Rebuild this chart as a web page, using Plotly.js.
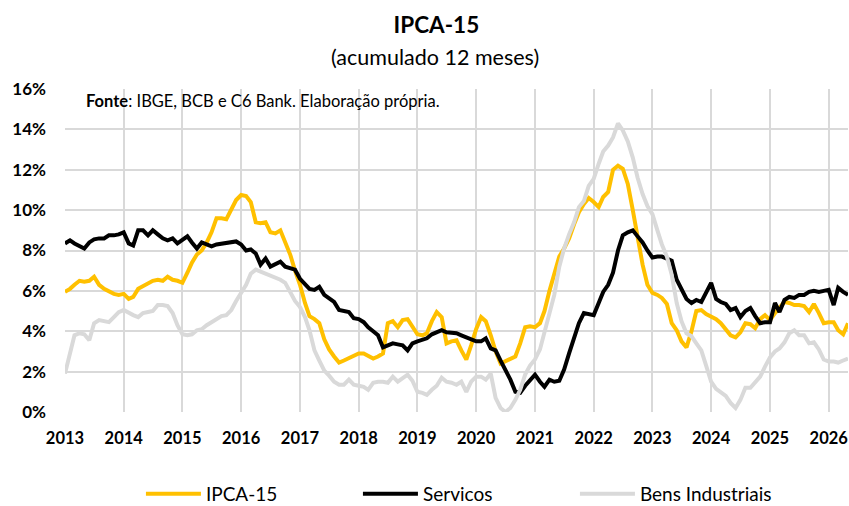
<!DOCTYPE html>
<html>
<head>
<meta charset="utf-8">
<script src="https://cdn.plot.ly/plotly-3.0.1.min.js"></script>
<style>html,body{margin:0;padding:0;background:#fff;}#chart{width:849px;height:506px;}</style>
</head>
<body>
<div id="chart"></div>
<script>
// Monthly series, Jan 2013 .. May 2026 (12-month accumulated, %)
const startYear = 2013;
const startMonth = 1;

const ipca15 = [
  5.95,6.1,6.3,6.5,6.45,6.5,6.7,6.3,6.1,5.95,5.85,5.8,
  5.85,5.6,5.7,6.1,6.25,6.35,6.5,6.55,6.5,6.7,6.55,6.5,
  6.4,6.9,7.4,7.8,8.0,8.4,8.9,9.6,9.6,9.55,10.0,10.5,
  10.75,10.7,10.4,9.4,9.35,9.4,8.9,8.85,9.0,8.4,7.8,7.0,
  6.3,5.4,4.75,4.6,4.4,3.6,3.1,2.75,2.45,2.55,2.65,2.8,
  2.9,2.9,2.8,2.65,2.75,2.9,4.4,4.5,4.2,4.55,4.6,4.2,
  3.85,3.8,3.9,4.5,4.95,4.7,3.4,3.5,3.55,3.05,2.6,3.3,
  4.1,4.7,4.5,3.8,3.0,2.4,2.5,2.6,2.75,3.4,4.2,4.25,
  4.2,4.4,5.0,6.0,6.8,7.7,8.1,8.6,9.3,9.9,10.3,10.6,
  10.4,10.15,10.65,10.9,12.0,12.2,12.05,11.3,10.0,8.6,7.3,6.3,
  5.9,5.8,5.65,5.35,4.4,4.05,3.5,3.2,4.0,5.0,5.05,4.85,
  4.7,4.6,4.4,4.1,3.8,3.7,3.95,4.4,4.35,4.15,4.6,4.8,
  4.55,4.9,5.15,5.45,5.4,5.3,5.3,5.25,4.95,5.35,4.9,4.4,
  4.45,4.45,4.05,3.85,4.4
];

const servicos = [
  8.35,8.5,8.35,8.2,8.1,8.4,8.55,8.6,8.6,8.75,8.75,8.8,
  8.9,8.35,8.25,9.0,9.0,8.75,9.0,8.8,8.6,8.5,8.6,8.35,
  8.5,8.7,8.4,8.1,8.4,8.3,8.2,8.3,8.35,8.35,8.4,8.45,
  8.3,8.0,8.05,7.85,7.3,7.6,7.2,7.35,7.45,7.2,7.1,7.05,
  6.6,6.3,6.1,6.05,6.2,5.8,5.65,5.45,5.05,5.0,4.95,4.65,
  4.6,4.45,4.2,4.0,3.8,3.2,3.3,3.4,3.35,3.3,3.05,3.4,
  3.5,3.6,3.65,3.85,3.95,4.05,3.95,3.9,3.9,3.8,3.7,3.55,
  3.5,3.5,3.65,3.15,3.05,2.55,2.1,1.6,1.0,0.95,1.3,1.6,
  1.85,1.5,1.25,1.6,1.5,1.55,2.1,2.9,3.6,4.4,4.9,4.85,
  4.8,5.4,5.95,6.3,6.9,8.0,8.75,8.9,9.0,8.7,8.4,8.0,
  7.65,7.7,7.7,7.6,7.5,6.55,6.1,5.6,5.4,5.55,5.45,5.9,
  6.4,5.6,5.45,5.35,5.05,5.15,4.7,5.0,5.15,4.75,4.4,4.45,
  4.45,5.4,4.95,5.55,5.7,5.65,5.8,5.8,5.95,6.0,5.95,6.0,
  6.05,5.3,6.15,5.95,5.8
];

const bensIndustriais = [
  1.9,3.0,3.8,3.9,3.85,3.55,4.4,4.55,4.5,4.45,4.7,4.95,
  5.05,4.9,4.8,4.7,4.9,4.95,5.0,5.3,5.3,5.25,4.9,4.3,
  3.85,3.8,3.85,4.05,4.1,4.3,4.45,4.65,4.75,4.8,5.05,5.5,
  5.95,6.3,6.85,7.05,6.95,6.85,6.75,6.6,6.55,6.4,5.95,5.5,
  5.2,4.7,4.05,3.05,2.55,2.05,1.8,1.5,1.35,1.35,1.6,1.35,
  1.3,1.25,1.1,1.45,1.5,1.5,1.45,1.75,1.5,1.7,1.85,1.55,
  1.0,0.95,0.85,1.1,1.3,1.7,1.5,1.45,1.35,1.5,1.0,1.5,
  1.75,1.75,1.6,1.9,0.7,0.2,0.0,0.2,0.6,1.1,1.85,2.3,
  2.6,3.1,3.9,4.9,5.8,7.2,8.1,8.8,9.4,10.15,10.45,11.2,
  11.55,12.3,12.9,13.2,13.6,14.3,13.95,13.4,12.6,11.6,10.8,10.2,
  9.8,9.0,8.3,7.7,6.8,5.4,4.5,3.9,3.75,3.4,3.05,2.3,
  1.5,1.15,1.0,0.8,0.45,0.2,0.6,1.2,1.2,1.45,1.75,2.25,
  2.7,3.0,3.15,3.45,3.9,4.05,3.8,3.8,3.4,3.45,3.1,2.6,
  2.5,2.5,2.45,2.55,2.65
];

const seriesNames = ['IPCA-15', 'Servicos', 'Bens Industriais'];
const seriesColors = ['#FFC000', '#000000', '#D9D9D9'];
const yTickVals = [0, 2, 4, 6, 8, 10, 12, 14, 16];
const yearTicks = [2013,2014,2015,2016,2017,2018,2019,2020,2021,2022,2023,2024,2025,2026];

function monthLabel(i) {
  const t = (startMonth - 1) + i;
  const y = startYear + Math.floor(t / 12);
  const m = (t % 12) + 1;
  return y + '-' + String(m).padStart(2, '0') + '-01';
}
const months = ipca15.map((_, i) => monthLabel(i));

const FONT = 'Lato, "Open Sans", sans-serif';
const allSeries = [ipca15, servicos, bensIndustriais];
const traces = allSeries.map((vals, k) => ({
  type: 'scatter',
  mode: 'lines',
  x: months,
  y: vals,
  name: seriesNames[k],
  line: { color: seriesColors[k], width: 4 },
  hoverinfo: 'x+y+name'
}));

const layout = {
  width: 849,
  height: 506,
  margin: { l: 65, r: 1, t: 89, b: 94 },
  paper_bgcolor: '#ffffff',
  plot_bgcolor: '#ffffff',
  font: { family: FONT, color: '#000000' },
  title: {
    text: 'IPCA-15',
    font: { family: FONT, size: 22.5, weight: 'bold', color: '#000000' },
    x: 0.514, xref: 'container', xanchor: 'center',
    y: 0.951, yref: 'container', yanchor: 'middle'
  },
  xaxis: {
    type: 'date',
    range: [months[0], months[months.length - 1]],
    tickvals: yearTicks.map(y => y + '-01-01'),
    ticktext: yearTicks.map(String),
    tickfont: { family: FONT, size: 16.5, weight: 'bold', color: '#000000' },
    ticklabelstandoff: 14,
    showgrid: true,
    gridcolor: '#D9D9D9',
    gridwidth: 1.5,
    zeroline: false,
    showline: false,
    ticks: ''
  },
  yaxis: {
    range: [0, 16],
    tickvals: yTickVals,
    ticktext: yTickVals.map(v => v + '%'),
    tickfont: { family: FONT, size: 17, weight: 'bold', color: '#000000' },
    ticklabelstandoff: 18,
    showgrid: true,
    gridcolor: '#D9D9D9',
    gridwidth: 1.5,
    zeroline: false,
    showline: false,
    ticks: ''
  },
  showlegend: true,
  legend: {
    orientation: 'h',
    xref: 'container', yref: 'container',
    x: 0.166, xanchor: 'left',
    y: 0.024, yanchor: 'middle',
    font: { family: FONT, size: 19, color: '#000000' },
    entrywidth: 147,
    entrywidthmode: 'pixels',
    itemwidth: 55,
    bgcolor: 'rgba(0,0,0,0)'
  },
  annotations: [
    {
      text: '(acumulado 12 meses)',
      xref: 'paper', yref: 'paper',
      x: 0.473, y: 1.099, xanchor: 'center', yanchor: 'middle',
      showarrow: false,
      font: { family: FONT, size: 21.5, color: '#000000' }
    },
    {
      text: '<b>Fonte</b>: IBGE, BCB e C6 Bank. Elaboração própria.',
      xref: 'paper', yref: 'paper',
      x: 0.024, y: 0.963, xanchor: 'left', yanchor: 'middle',
      showarrow: false,
      font: { family: FONT, size: 16.5, color: '#000000' }
    }
  ]
};

Plotly.newPlot('chart', traces, layout, { displayModeBar: false, responsive: false });
</script>
</body>
</html>
